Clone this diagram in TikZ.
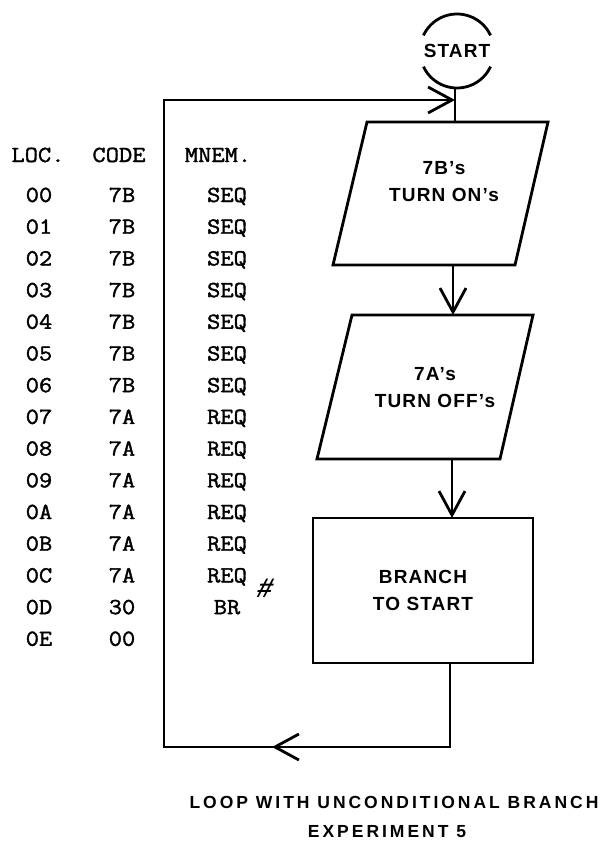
\documentclass[tikz,border=0pt]{standalone}
\usepackage{fontspec}
\setmainfont{Liberation Sans}
\newfontfamily\lblfont[LetterSpace=6]{Liberation Sans}
\newfontfamily\capfont[LetterSpace=17]{Liberation Sans}
\newfontfamily\tabfont[FakeStretch=1.12,FakeBold=1.6]{Latin Modern Mono}
\newfontfamily\hashfont[FakeSlant=0.3]{Liberation Sans}
\usetikzlibrary{arrows.meta}
\begin{document}
\begin{tikzpicture}[x=1pt,y=1pt,
  flow/.style={draw, line width=2.8pt, line join=miter},
  barb/.style={-{Straight Barb[length=24pt,width=26pt,line width=2.8pt]}},
  conn/.style={flow, barb},
  lbl/.style={font=\lblfont\bfseries\fontsize{19}{27}\selectfont, align=center, inner sep=0pt, outer sep=0pt},
  capt/.style={font=\capfont\bfseries\fontsize{17.5}{20}\selectfont, inner sep=0pt},
  tab/.style={font=\tabfont\fontsize{23}{23}\selectfont, anchor=base, inner sep=0pt},
  boxnode/.style={rectangle, draw, line width=2.8pt, minimum width=220pt, minimum height=145pt, inner sep=0pt, outer sep=0pt}]
\useasboundingbox (0,0) rectangle (605,-846);

% ---------- start terminal ----------
\node[circle, minimum size=74pt, inner sep=0pt, outer sep=0pt, lbl] (start) at (457,-51) {START};
\draw[flow] (start.25) arc[start angle=25, end angle=155, radius=37pt];
\draw[flow] (start.205) arc[start angle=205, end angle=335, radius=37pt];

% ---------- parallelogram 1 ----------
\coordinate (p1a) at (367,-122);
\coordinate (p1b) at (548,-122);
\coordinate (p1c) at (515,-265);
\coordinate (p1d) at (333,-265);
\draw[flow] (p1a) -- (p1b) -- (p1c) -- (p1d) -- cycle;
\node[lbl] (p1) at (444,-181.5) {7B’s\\TURN ON’s};
\coordinate (p1top) at (455,-122);
\coordinate (p1bot) at (453,-265);

% ---------- parallelogram 2 ----------
\coordinate (p2a) at (352,-315);
\coordinate (p2b) at (533,-315);
\coordinate (p2c) at (500,-459);
\coordinate (p2d) at (317,-459);
\draw[flow] (p2a) -- (p2b) -- (p2c) -- (p2d) -- cycle;
\node[lbl] (p2) at (435,-387.5) {7A’s\\TURN OFF’s};
\coordinate (p2top) at (453,-315);
\coordinate (p2bot) at (452,-459);

% ---------- branch box ----------
\node[boxnode, lbl] (br) at (423,-590.5) {BRANCH\\TO START};
\coordinate (brtop) at (452,-518);
\coordinate (brout) at (450,-663);

% ---------- connectors ----------
\coordinate (join) at (455,-100);
\draw[flow] (start.south -| join) -- (p1top);
\draw[conn] (p1bot) -- (p2top);
\draw[conn] (p2bot) -- (brtop);

\coordinate (lbr) at (450,-747);
\coordinate (ltl) at (164,-100);
\coordinate (bmid) at (272,-747);
\draw[conn] (brout) -- (lbr) -| (ltl) -- (join);
\draw[conn] (lbr) -- (bmid);

% ---------- program table ----------
\node[tab] (hloc) at (38,-162) {LOC.};
\node[tab] (hcode) at (119,-162) {CODE};
\node[tab] (hmnem) at (218,-162) {MNEM.};

\foreach \i/\loc/\code/\mn in {0/00/7B/SEQ,1/01/7B/SEQ,2/02/7B/SEQ,3/03/7B/SEQ,4/04/7B/SEQ,5/05/7B/SEQ,6/06/7B/SEQ,7/07/7A/REQ,8/08/7A/REQ,9/09/7A/REQ,10/0A/7A/REQ,11/0B/7A/REQ,12/0C/7A/REQ,13/0D/30/BR}{
  \node[tab] (loc\i) at (39,{-202-31.7*\i}) {\loc};
  \node[tab] (code\i) at (122,{-202-31.7*\i}) {\code};
  \node[tab] (mn\i) at (227,{-202-31.7*\i}) {\mn};
}
\node[tab] (loc14) at (39,{-202-31.7*14}) {0E};
\node[tab] (code14) at (122,{-202-31.7*14}) {00};
\node[anchor=base, inner sep=0pt, font=\hashfont\bfseries\fontsize{27}{27}\selectfont] (hash) at (263,-597) {\#};

% ---------- caption ----------
\node[capt] (cap1) at (394,-802) {LOOP WITH UNCONDITIONAL BRANCH};
\node[capt] (cap2) at (387,-832) {EXPERIMENT 5};
\end{tikzpicture}
\end{document}
